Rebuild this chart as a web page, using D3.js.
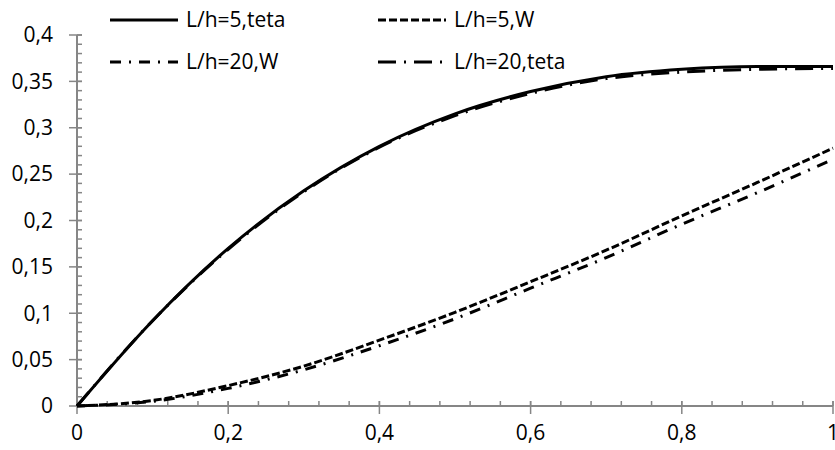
<!DOCTYPE html>
<html>
<head>
<meta charset="utf-8">
<script src="https://cdn.jsdelivr.net/npm/d3@7"></script>
<style>
  body { margin: 0; background: #fff; }
  svg { display: block; font-family: "Open Sans", sans-serif; }
</style>
</head>
<body>
<div id="chart"></div>
<script>
// --- data ---
const xs = [0, 0.1, 0.2, 0.3, 0.4, 0.5, 0.6, 0.7, 0.8, 0.9, 1];
const teta5  = [0, 0.092, 0.170, 0.232, 0.280, 0.315, 0.339, 0.355, 0.363, 0.366, 0.366];
const w5     = [0, 0.006, 0.022, 0.043, 0.071, 0.101, 0.134, 0.168, 0.205, 0.241, 0.278];
const w20    = [0, 0.005, 0.019, 0.039, 0.065, 0.094, 0.127, 0.160, 0.196, 0.230, 0.266];
const teta20 = [0, 0.092, 0.169, 0.231, 0.279, 0.313, 0.337, 0.353, 0.360, 0.363, 0.364];
const xTicks = [0, 0.2, 0.4, 0.6, 0.8, 1];
const yTicks = [0, 0.05, 0.1, 0.15, 0.2, 0.25, 0.3, 0.35, 0.4];

const series = [
  { name: "L/h=5,teta",  values: teta5,  dash: null },
  { name: "L/h=5,W",     values: w5,     dash: "8,3" },
  { name: "L/h=20,W",    values: w20,    dash: "11,8,2,8" },
  { name: "L/h=20,teta", values: teta20, dash: "18,8,2,8" }
];

const width = 835, height = 450;
const margin = { left: 77, right: 2, top: 35, bottom: 44 };

const svg = d3.select("#chart").append("svg")
  .attr("width", width)
  .attr("height", height);

const x = d3.scaleLinear().domain([0, 1]).range([margin.left, width - margin.right]);
const y = d3.scaleLinear().domain([0, 0.4]).range([height - margin.bottom, margin.top]);

const fmt = d => String(+d.toFixed(2)).replace(".", ",");
const axisColor = "#868686";
const fontSize = "21px";

// --- y axis ---
const yMinor = d3.range(0, 0.4001, 0.01);
svg.append("g").selectAll("line")
  .data(yMinor)
  .enter().append("line")
  .attr("x1", x(0)).attr("x2", x(0) + 5)
  .attr("y1", d => y(d)).attr("y2", d => y(d))
  .attr("stroke", axisColor).attr("stroke-width", 1.5);

svg.append("g").selectAll("line")
  .data(yTicks)
  .enter().append("line")
  .attr("x1", x(0) - 8).attr("x2", x(0) + 5)
  .attr("y1", d => y(d)).attr("y2", d => y(d))
  .attr("stroke", axisColor).attr("stroke-width", 1.5);

svg.append("line")
  .attr("x1", x(0)).attr("x2", x(0))
  .attr("y1", y(0)).attr("y2", y(0.4))
  .attr("stroke", axisColor).attr("stroke-width", 2);

svg.append("g").selectAll("text")
  .data(yTicks)
  .enter().append("text")
  .attr("x", 53)
  .attr("y", d => y(d))
  .attr("dy", "0.35em")
  .attr("text-anchor", "end")
  .style("font-size", fontSize)
  .attr("fill", "#000")
  .text(fmt);

// --- x axis ---
const xMinor = d3.range(0, 1.0001, 0.04);
svg.append("g").selectAll("line")
  .data(xMinor)
  .enter().append("line")
  .attr("x1", d => x(d)).attr("x2", d => x(d))
  .attr("y1", y(0) - 5).attr("y2", y(0))
  .attr("stroke", axisColor).attr("stroke-width", 1.5);

svg.append("g").selectAll("line")
  .data(xTicks)
  .enter().append("line")
  .attr("x1", d => x(d)).attr("x2", d => x(d))
  .attr("y1", y(0) - 5).attr("y2", y(0) + 8)
  .attr("stroke", axisColor).attr("stroke-width", 1.5);

svg.append("line")
  .attr("x1", x(0)).attr("x2", x(1))
  .attr("y1", y(0)).attr("y2", y(0))
  .attr("stroke", axisColor).attr("stroke-width", 2);

svg.append("g").selectAll("text")
  .data(xTicks)
  .enter().append("text")
  .attr("x", d => x(d))
  .attr("y", y(0) + 27)
  .attr("dy", "0.35em")
  .attr("text-anchor", "middle")
  .style("font-size", fontSize)
  .attr("fill", "#000")
  .text(fmt);

// --- lines ---
const line = d3.line()
  .x((d, i) => x(xs[i]))
  .y(d => y(d))
  .curve(d3.curveMonotoneX);

svg.append("g").selectAll("path")
  .data(series)
  .enter().append("path")
  .attr("d", d => line(d.values))
  .attr("fill", "none")
  .attr("stroke", "#000")
  .attr("stroke-width", 3)
  .attr("stroke-dasharray", d => d.dash);

// --- legend ---
const legendPos = [
  { x: 110, y: 20 }, { x: 378, y: 20 },
  { x: 110, y: 62 }, { x: 378, y: 62 }
];
const legend = svg.append("g").selectAll("g")
  .data(series)
  .enter().append("g")
  .attr("transform", (d, i) => `translate(${legendPos[i].x},${legendPos[i].y})`);

legend.append("line")
  .attr("x1", 0).attr("x2", 68)
  .attr("y1", 0).attr("y2", 0)
  .attr("stroke", "#000")
  .attr("stroke-width", 3)
  .attr("stroke-dasharray", d => d.dash);

legend.append("text")
  .attr("x", 76)
  .attr("dy", "0.35em")
  .style("font-size", fontSize)
  .attr("fill", "#000")
  .text(d => d.name);
</script>
</body>
</html>
